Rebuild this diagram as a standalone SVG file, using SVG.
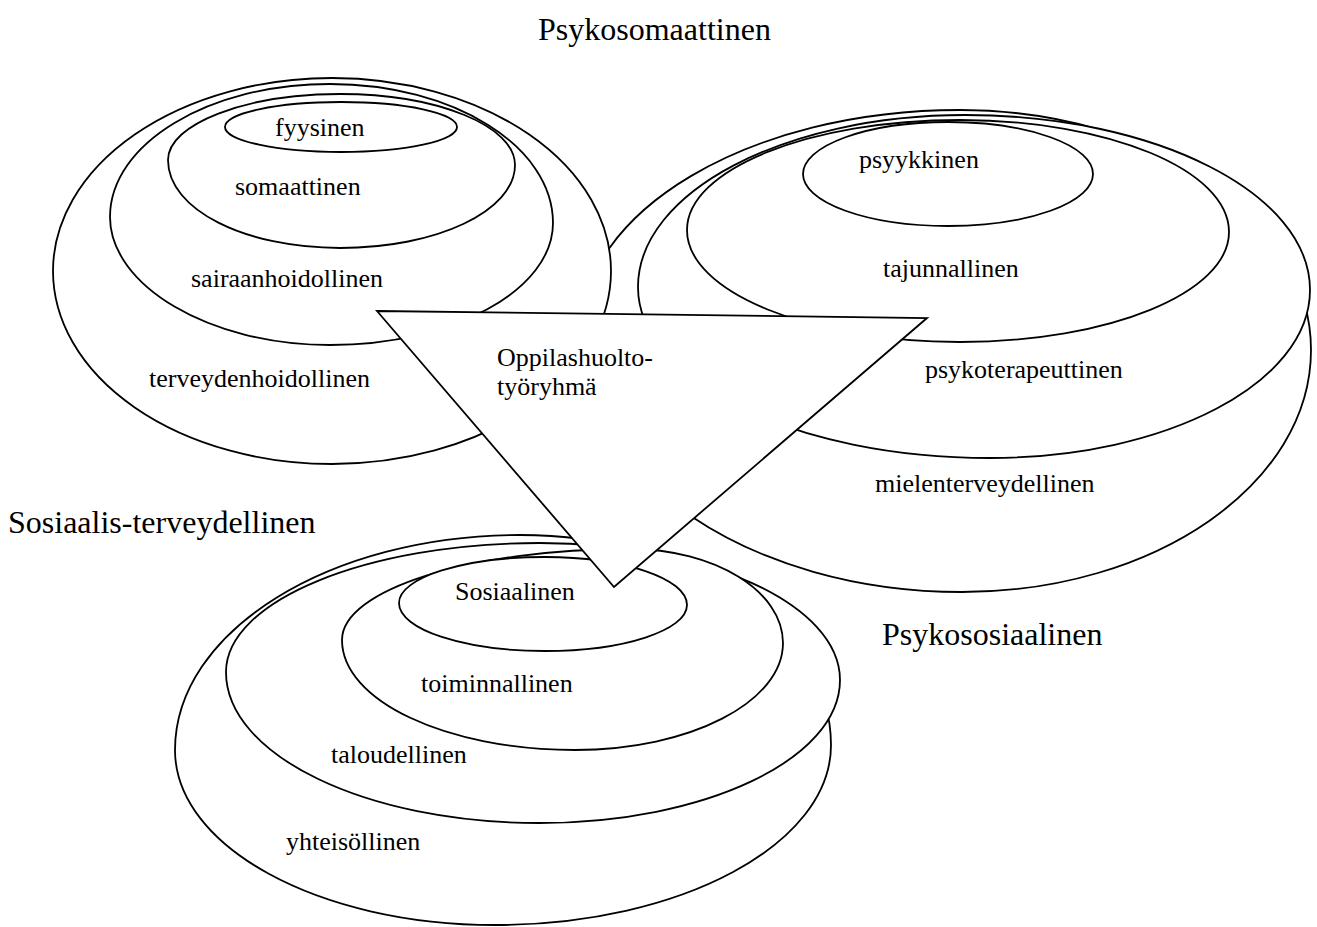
<svg xmlns="http://www.w3.org/2000/svg" width="1317" height="927" viewBox="0 0 1317 927">
<style>
.s{fill:#fff;stroke:#000;stroke-width:1.8}
.t{font-family:"Liberation Serif","Times New Roman",serif;font-size:26px;fill:#000}
.b{font-family:"Liberation Serif","Times New Roman",serif;font-size:32px;fill:#000}
</style>
<rect width="1317" height="927" fill="#fff"/>
<g id="psykososiaalinen-cluster">
<g id="mielenterveydellinen"><path class="s" d="M580,335 C580,210.7 750.1,110 960,110 C1153.9,110 1311,217.4 1311,350 C1311,483.7 1154.8,592 962,592 C751,592 580,476.9 580,335Z"/></g>
<g id="psykoterapeuttinen"><path class="s" d="M638,287 C638,192 784.4,115 965,115 C1155.5,115 1310,193.3 1310,290 C1310,382.8 1166.7,458 990,458 C795.6,458 638,381.4 638,287Z"/></g>
<g id="tajunnallinen"><path class="s" d="M687,230 C687,169.2 809.2,120 960,120 C1108.6,120 1229,170.1 1229,232 C1229,292.8 1108.6,342 960,342 C809.2,342 687,291.9 687,230Z"/></g>
<g id="psyykkinen"><ellipse class="s" cx="948" cy="174" rx="145" ry="52"/></g>
</g>
<g id="psykosomaattinen-cluster">
<g id="terveydenhoidollinen"><ellipse class="s" cx="332" cy="271" rx="279" ry="193"/></g>
<g id="sairaanhoidollinen"><path class="s" d="M110,217 C110,143.5 208.5,84 330,84 C453.2,84 553,146.2 553,223 C553,289.8 453.2,345 330,345 C208.5,345 110,285 110,217Z"/></g>
<g id="somaattinen"><path class="s" d="M168,160 C168,124.1 245,94 340,94 C436.7,94 515,125.7 515,165 C515,211 436.7,248 340,248 C245,248 168,209.7 168,160Z"/></g>
<g id="fyysinen"><ellipse class="s" cx="341" cy="127" rx="116" ry="25"/></g>
</g>
<g id="sosiaalinen-cluster">
<g id="yhteisollinen"><path class="s" d="M175,750 C175,631.3 329.5,535 520,535 C691.8,535 831,629 831,745 C831,844.4 680.6,925 495,925 C318.3,925 175,846.7 175,750Z"/></g>
<g id="taloudellinen"><path class="s" d="M226,672 C226,600.8 366.6,543 540,543 C705.7,543 840,604.3 840,680 C840,759 705.2,823 539,823 C366.1,823 226,755.4 226,672Z"/></g>
<g id="toiminnallinen"><path class="s" d="M342,640 C342,589.7 471,549 630,549 C714.5,549 783,591.1 783,643 C783,702.1 689.9,750 575,750 C446.3,750 342,700.8 342,640Z"/></g>
<g id="sosiaalinen"><path class="s" d="M399,603 C399,577.6 464.4,557 545,557 C623.4,557 687,578.5 687,605 C687,630.4 623.4,651 545,651 C464.4,651 399,629.5 399,603Z"/></g>
</g>
<g id="oppilashuoltotyoryhma"><polygon class="s" points="377,311 927,318 614,587"/></g>
<g id="labels">
<text class="b" x="538" y="40">Psykosomaattinen</text>
<text class="b" x="8" y="533">Sosiaalis-terveydellinen</text>
<text class="b" x="882" y="645">Psykososiaalinen</text>
<text class="t" x="275" y="136">fyysinen</text>
<text class="t" x="235" y="195">somaattinen</text>
<text class="t" x="191" y="287">sairaanhoidollinen</text>
<text class="t" x="149" y="387">terveydenhoidollinen</text>
<text class="t" x="497" y="366">Oppilashuolto-</text>
<text class="t" x="497" y="395">työryhmä</text>
<text class="t" x="859" y="168">psyykkinen</text>
<text class="t" x="883" y="277">tajunnallinen</text>
<text class="t" x="925" y="378">psykoterapeuttinen</text>
<text class="t" x="875" y="492">mielenterveydellinen</text>
<text class="t" x="455" y="600">Sosiaalinen</text>
<text class="t" x="421" y="692">toiminnallinen</text>
<text class="t" x="331" y="763">taloudellinen</text>
<text class="t" x="286" y="850">yhteisöllinen</text>
</g>
</svg>
